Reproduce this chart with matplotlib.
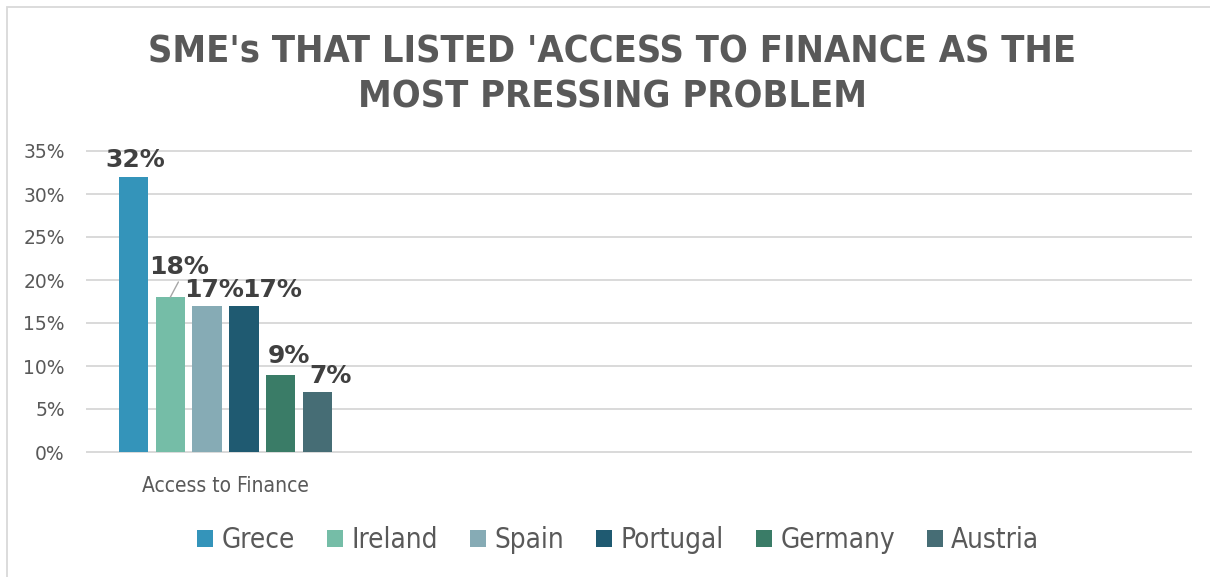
import matplotlib.pyplot as plt
from matplotlib import ticker
from matplotlib.patches import Rectangle

countries = ['Grece', 'Ireland', 'Spain', 'Portugal', 'Germany', 'Austria']
values = [32, 18, 17, 17, 9, 7]
colors = ['#3494BA', '#75BDA7', '#86ABB5', '#1F5A71', '#3A7C67', '#466D75']
category = 'Access to Finance'
title = "SME's THAT LISTED 'ACCESS TO FINANCE AS THE\nMOST PRESSING PROBLEM"

# label offsets in points (dx, dy above bar top to baseline), as placed in the original
label_offsets = [(1.5, 7), (6, 17), (5, 6.5), (20, 6.5), (6, 8.6), (9.5, 6.5)]

W, H = 1210, 577
fig = plt.figure(figsize=(W / 100, H / 100), dpi=100)
plt.rcParams['font.family'] = ['DejaVu Sans']

# chart border (light gray, only top and left visible in the crop)
fig.add_artist(Rectangle((7 / W, -0.1), 1.2, 1.1 - 7 / H, transform=fig.transFigure,
                         fill=False, edgecolor='#D9D9D9', linewidth=1.3))

ax = fig.add_axes([87 / W, 1 - 452 / H, (1191 - 87) / W, (452 - 151) / H])

x = list(range(len(values)))
bars = ax.bar(x, values, width=0.8, color=colors, zorder=3)

ax.set_ylim(0, 35)
ax.set_xlim(-1.264, 28.74)
ax.yaxis.set_major_locator(ticker.MultipleLocator(5))
ax.yaxis.set_major_formatter(ticker.FuncFormatter(lambda v, p: f'{v:.0f}%'))
ax.grid(axis='y', color='#D9D9D9', linewidth=1.4, zorder=0)
for gl in ax.get_ygridlines():
    gl.set_clip_on(False)
for s in ax.spines.values():
    s.set_visible(False)
ax.tick_params(axis='y', length=0, pad=16, labelsize=13.5, labelcolor='#595959')
ax.set_xticks([2.5])
ax.set_xticklabels([category], fontsize=15, color='#595959', fontstretch='condensed')
ax.tick_params(axis='x', length=0, pad=17)

for xi, v, (dx, dy) in zip(x, values, label_offsets):
    ax.annotate(f'{v}%', (xi, v), xytext=(dx, dy), textcoords='offset points',
                ha='center', va='baseline', fontsize=18, fontweight='bold', color='#404040')

# leader line for the Ireland label
ax.annotate('', xy=(1.0, 18), xytext=(1.22, 19.77),
            arrowprops=dict(arrowstyle='-', color='#A6A6A6', lw=1, shrinkA=0, shrinkB=0))

fig.text(0.506, 1 - 75 / H, title, ha='center', va='center', fontsize=27.2,
         fontweight='bold', color='#595959', linespacing=1.3, fontstretch='condensed')

leg = fig.legend(handles=list(bars), labels=countries, loc='center', ncol=6,
                 bbox_to_anchor=(0.511, 1 - 540 / H), frameon=False,
                 prop={'size': 20, 'stretch': 'condensed'},
                 handlelength=0.58, handleheight=0.55, handletextpad=0.3, columnspacing=1.15)
for t in leg.get_texts():
    t.set_color('#595959')

fig.savefig('out.png', dpi=100)
